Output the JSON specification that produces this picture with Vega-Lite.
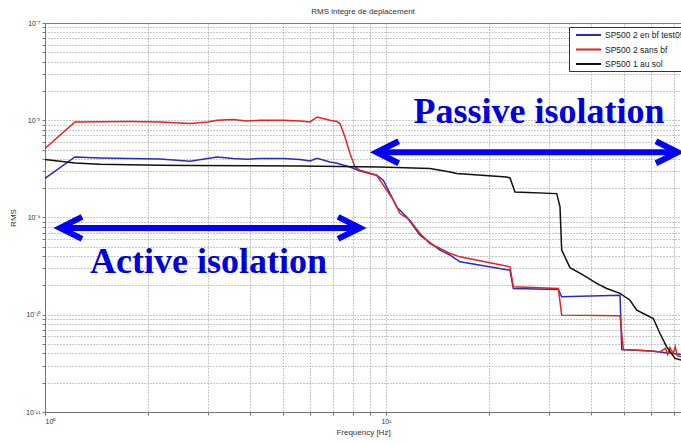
{
  "$schema": "https://vega.github.io/schema/vega-lite/v6.json",
  "width": 636,
  "height": 389,
  "autosize": {"type": "none"},
  "padding": {"left": 45, "top": 23, "right": 0, "bottom": 31},
  "background": "white",
  "title": {"text": "RMS integre de deplacement", "fontSize": 8, "font": "Liberation Sans", "fontWeight": "normal", "color": "#333", "offset": 3},
  "config": {
    "view": {"stroke": "#777"},
    "axis": {"labelFont": "Liberation Sans", "labelFontSize": 7, "labelColor": "#333", "titleFont": "Liberation Sans", "titleFontSize": 8, "titleFontWeight": "normal", "titleColor": "#333", "gridColor": "#888", "gridDash": [1, 2], "gridOpacity": 0.9, "domainColor": "#777", "tickColor": "#777", "tickSize": 3, "labelPadding": 2}
  },
  "layer": [
    {
      "data": {"values": [
        {"s": "SP500 2 en bf test05", "f": 1.0, "v": 2.52e-9},
        {"s": "SP500 2 en bf test05", "f": 1.224, "v": 4.2e-9},
        {"s": "SP500 2 en bf test05", "f": 1.45, "v": 4.1e-9},
        {"s": "SP500 2 en bf test05", "f": 1.775, "v": 4.04e-9},
        {"s": "SP500 2 en bf test05", "f": 2.174, "v": 4.0e-9},
        {"s": "SP500 2 en bf test05", "f": 2.662, "v": 3.79e-9},
        {"s": "SP500 2 en bf test05", "f": 3.195, "v": 4.2e-9},
        {"s": "SP500 2 en bf test05", "f": 3.558, "v": 4.05e-9},
        {"s": "SP500 2 en bf test05", "f": 3.912, "v": 3.97e-9},
        {"s": "SP500 2 en bf test05", "f": 4.271, "v": 4.05e-9},
        {"s": "SP500 2 en bf test05", "f": 4.988, "v": 4.04e-9},
        {"s": "SP500 2 en bf test05", "f": 5.595, "v": 3.95e-9},
        {"s": "SP500 2 en bf test05", "f": 5.986, "v": 3.82e-9},
        {"s": "SP500 2 en bf test05", "f": 6.278, "v": 4.07e-9},
        {"s": "SP500 2 en bf test05", "f": 6.851, "v": 3.73e-9},
        {"s": "SP500 2 en bf test05", "f": 7.183, "v": 3.61e-9},
        {"s": "SP500 2 en bf test05", "f": 7.842, "v": 3.31e-9},
        {"s": "SP500 2 en bf test05", "f": 8.39, "v": 3.01e-9},
        {"s": "SP500 2 en bf test05", "f": 9.39, "v": 2.72e-9},
        {"s": "SP500 2 en bf test05", "f": 9.82, "v": 2.42e-9},
        {"s": "SP500 2 en bf test05", "f": 10.75, "v": 1.285e-9},
        {"s": "SP500 2 en bf test05", "f": 11.5, "v": 1.014e-9},
        {"s": "SP500 2 en bf test05", "f": 12.58, "v": 6.58e-10},
        {"s": "SP500 2 en bf test05", "f": 14.4, "v": 4.61e-10},
        {"s": "SP500 2 en bf test05", "f": 15.41, "v": 4.1e-10},
        {"s": "SP500 2 en bf test05", "f": 16.48, "v": 3.5e-10},
        {"s": "SP500 2 en bf test05", "f": 23.1, "v": 2.87e-10},
        {"s": "SP500 2 en bf test05", "f": 23.62, "v": 1.86e-10},
        {"s": "SP500 2 en bf test05", "f": 32.02, "v": 1.82e-10},
        {"s": "SP500 2 en bf test05", "f": 32.75, "v": 1.53e-10},
        {"s": "SP500 2 en bf test05", "f": 48.57, "v": 1.59e-10},
        {"s": "SP500 2 en bf test05", "f": 49.13, "v": 4.4e-11},
        {"s": "SP500 2 en bf test05", "f": 60.0, "v": 4.25e-11},
        {"s": "SP500 2 en bf test05", "f": 73.3, "v": 3.9e-11},
        {"s": "SP500 2 sans bf", "f": 1.0, "v": 5.12e-9},
        {"s": "SP500 2 sans bf", "f": 1.224, "v": 9.6e-9},
        {"s": "SP500 2 sans bf", "f": 1.45, "v": 9.65e-9},
        {"s": "SP500 2 sans bf", "f": 1.775, "v": 9.7e-9},
        {"s": "SP500 2 sans bf", "f": 2.174, "v": 9.6e-9},
        {"s": "SP500 2 sans bf", "f": 2.662, "v": 9.25e-9},
        {"s": "SP500 2 sans bf", "f": 3.0, "v": 9.6e-9},
        {"s": "SP500 2 sans bf", "f": 3.195, "v": 1.0e-8},
        {"s": "SP500 2 sans bf", "f": 3.558, "v": 1.02e-8},
        {"s": "SP500 2 sans bf", "f": 3.912, "v": 9.8e-9},
        {"s": "SP500 2 sans bf", "f": 4.271, "v": 1.0e-8},
        {"s": "SP500 2 sans bf", "f": 4.988, "v": 1.0e-8},
        {"s": "SP500 2 sans bf", "f": 5.595, "v": 9.8e-9},
        {"s": "SP500 2 sans bf", "f": 5.986, "v": 9.6e-9},
        {"s": "SP500 2 sans bf", "f": 6.278, "v": 1.08e-8},
        {"s": "SP500 2 sans bf", "f": 6.851, "v": 1.0e-8},
        {"s": "SP500 2 sans bf", "f": 7.183, "v": 9.7e-9},
        {"s": "SP500 2 sans bf", "f": 7.33, "v": 9.25e-9},
        {"s": "SP500 2 sans bf", "f": 7.582, "v": 6.74e-9},
        {"s": "SP500 2 sans bf", "f": 7.842, "v": 4.55e-9},
        {"s": "SP500 2 sans bf", "f": 8.111, "v": 3.31e-9},
        {"s": "SP500 2 sans bf", "f": 8.39, "v": 3.06e-9},
        {"s": "SP500 2 sans bf", "f": 9.39, "v": 2.72e-9},
        {"s": "SP500 2 sans bf", "f": 9.82, "v": 2.15e-9},
        {"s": "SP500 2 sans bf", "f": 10.51, "v": 1.51e-9},
        {"s": "SP500 2 sans bf", "f": 10.99, "v": 1.099e-9},
        {"s": "SP500 2 sans bf", "f": 11.76, "v": 9.38e-10},
        {"s": "SP500 2 sans bf", "f": 12.58, "v": 6.85e-10},
        {"s": "SP500 2 sans bf", "f": 13.46, "v": 5.4e-10},
        {"s": "SP500 2 sans bf", "f": 14.4, "v": 4.8e-10},
        {"s": "SP500 2 sans bf", "f": 15.41, "v": 4.27e-10},
        {"s": "SP500 2 sans bf", "f": 16.48, "v": 3.94e-10},
        {"s": "SP500 2 sans bf", "f": 23.1, "v": 3.11e-10},
        {"s": "SP500 2 sans bf", "f": 23.62, "v": 1.94e-10},
        {"s": "SP500 2 sans bf", "f": 32.02, "v": 1.86e-10},
        {"s": "SP500 2 sans bf", "f": 32.75, "v": 9.91e-11},
        {"s": "SP500 2 sans bf", "f": 48.57, "v": 9.74e-11},
        {"s": "SP500 2 sans bf", "f": 49.66, "v": 4.4e-11},
        {"s": "SP500 2 sans bf", "f": 56.8, "v": 4.3e-11},
        {"s": "SP500 2 sans bf", "f": 63.6, "v": 4.16e-11},
        {"s": "SP500 2 sans bf", "f": 66.0, "v": 4.5e-11},
        {"s": "SP500 2 sans bf", "f": 67.0, "v": 3.9e-11},
        {"s": "SP500 2 sans bf", "f": 68.0, "v": 4.6e-11},
        {"s": "SP500 2 sans bf", "f": 69.57, "v": 4.0e-11},
        {"s": "SP500 2 sans bf", "f": 70.5, "v": 4.7e-11},
        {"s": "SP500 2 sans bf", "f": 71.5, "v": 3.8e-11},
        {"s": "SP500 2 sans bf", "f": 73.3, "v": 3.69e-11},
        {"s": "SP500 1 au sol", "f": 1.0, "v": 3.94e-9},
        {"s": "SP500 1 au sol", "f": 1.224, "v": 3.64e-9},
        {"s": "SP500 1 au sol", "f": 1.45, "v": 3.53e-9},
        {"s": "SP500 1 au sol", "f": 2.174, "v": 3.45e-9},
        {"s": "SP500 1 au sol", "f": 2.662, "v": 3.42e-9},
        {"s": "SP500 1 au sol", "f": 5.595, "v": 3.39e-9},
        {"s": "SP500 1 au sol", "f": 9.6, "v": 3.31e-9},
        {"s": "SP500 1 au sol", "f": 13.46, "v": 3.19e-9},
        {"s": "SP500 1 au sol", "f": 15.41, "v": 2.94e-9},
        {"s": "SP500 1 au sol", "f": 16.12, "v": 2.83e-9},
        {"s": "SP500 1 au sol", "f": 22.59, "v": 2.61e-9},
        {"s": "SP500 1 au sol", "f": 23.1, "v": 2.55e-9},
        {"s": "SP500 1 au sol", "f": 23.89, "v": 1.83e-9},
        {"s": "SP500 1 au sol", "f": 31.67, "v": 1.76e-9},
        {"s": "SP500 1 au sol", "f": 32.38, "v": 1.285e-9},
        {"s": "SP500 1 au sol", "f": 32.75, "v": 4.61e-10},
        {"s": "SP500 1 au sol", "f": 33.11, "v": 4.27e-10},
        {"s": "SP500 1 au sol", "f": 34.64, "v": 3.05e-10},
        {"s": "SP500 1 au sol", "f": 37.9, "v": 2.55e-10},
        {"s": "SP500 1 au sol", "f": 41.48, "v": 2.1e-10},
        {"s": "SP500 1 au sol", "f": 44.39, "v": 1.86e-10},
        {"s": "SP500 1 au sol", "f": 48.57, "v": 1.66e-10},
        {"s": "SP500 1 au sol", "f": 51.95, "v": 1.41e-10},
        {"s": "SP500 1 au sol", "f": 54.36, "v": 1.115e-10},
        {"s": "SP500 1 au sol", "f": 56.82, "v": 1.031e-10},
        {"s": "SP500 1 au sol", "f": 60.8, "v": 9.16e-11},
        {"s": "SP500 1 au sol", "f": 63.61, "v": 6.42e-11},
        {"s": "SP500 1 au sol", "f": 66.55, "v": 4.68e-11},
        {"s": "SP500 1 au sol", "f": 70.38, "v": 3.56e-11},
        {"s": "SP500 1 au sol", "f": 73.3, "v": 3.42e-11}
      ]},
      "mark": {"type": "line", "strokeWidth": 1.5},
      "encoding": {
        "x": {"field": "f", "type": "quantitative", "title": "Frequency [Hz]",
          "scale": {"type": "log", "domain": [1, 73.3], "nice": false},
          "axis": {"values": [1, 2, 3, 4, 5, 6, 7, 8, 9, 10, 20, 30, 40, 50, 60, 70], "labelExpr": "datum.value == 1 ? '10⁰' : datum.value == 10 ? '10¹' : ''", "grid": true, "titlePadding": 4}},
        "y": {"field": "v", "type": "quantitative", "title": "RMS",
          "scale": {"type": "log", "domain": [1e-11, 1e-7], "nice": false},
          "axis": {"values": [1e-11, 2e-11, 3e-11, 4e-11, 5e-11, 6e-11, 7e-11, 8e-11, 9e-11, 1e-10, 2e-10, 3e-10, 4e-10, 5e-10, 6e-10, 7e-10, 8e-10, 9e-10, 1e-9, 2e-9, 3e-9, 4e-9, 5e-9, 6e-9, 7e-9, 8e-9, 9e-9, 1e-8, 2e-8, 3e-8, 4e-8, 5e-8, 6e-8, 7e-8, 8e-8, 9e-8, 1e-7],
            "labelExpr": "datum.value == 1e-7 ? '10⁻⁷' : datum.value == 1e-8 ? '10⁻⁸' : datum.value == 1e-9 ? '10⁻⁹' : datum.value == 1e-10 ? '10⁻¹⁰' : datum.value == 1e-11 ? '10⁻¹¹' : ''", "grid": true, "titlePadding": 8}},
        "color": {"field": "s", "type": "nominal",
          "scale": {"domain": ["SP500 2 en bf test05", "SP500 2 sans bf", "SP500 1 au sol"], "range": ["#2a2ac8", "#e02424", "#111111"]},
          "legend": {"orient": "none", "legendX": 524, "legendY": 4, "title": null, "strokeColor": "#333", "fillColor": "white", "padding": 2, "symbolType": "M -1 0 L 4 0", "symbolSize": 100, "symbolStrokeWidth": 2, "symbolOffset": 4, "labelFont": "Liberation Sans", "labelFontSize": 8.5, "labelColor": "#222", "labelOffset": 18, "rowPadding": 3.5}}
      }
    },
    {
      "data": {"values": [
        {"a": "passive", "f": 9.39, "f2": 71.8, "v": 4.69e-9},
        {"a": "active", "f": 1.107, "f2": 8.39, "v": 7.82e-10}
      ]},
      "mark": {"type": "rule", "color": "#0000ff", "strokeWidth": 6},
      "encoding": {"x": {"field": "f", "type": "quantitative"}, "x2": {"field": "f2"}, "y": {"field": "v", "type": "quantitative"}}
    },
    {
      "data": {"values": [
        {"d": "L", "f": 9.39, "v": 4.69e-9},
        {"d": "R", "f": 71.8, "v": 4.69e-9},
        {"d": "L", "f": 1.107, "v": 7.82e-10},
        {"d": "R", "f": 8.39, "v": 7.82e-10}
      ]},
      "mark": {"type": "point", "filled": false, "strokeWidth": 6, "size": 484, "color": "#0000ff", "opacity": 1},
      "encoding": {
        "x": {"field": "f", "type": "quantitative"},
        "y": {"field": "v", "type": "quantitative"},
        "shape": {"field": "d", "type": "nominal", "scale": {"domain": ["L", "R"], "range": ["M 2 -1 L 0 0 L 2 1", "M -2 -1 L 0 0 L -2 1"]}, "legend": null}
      }
    },
    {
      "data": {"values": [
        {"t": "Passive isolation", "f": 28.1, "v": 9.31e-9},
        {"t": "Active isolation", "f": 3.016, "v": 2.66e-10}
      ]},
      "mark": {"type": "text", "font": "Liberation Serif", "fontWeight": "bold", "fontSize": 36, "color": "#0000dd", "align": "center", "baseline": "alphabetic"},
      "encoding": {"x": {"field": "f", "type": "quantitative"}, "y": {"field": "v", "type": "quantitative"}, "text": {"field": "t"}}
    }
  ]
}
